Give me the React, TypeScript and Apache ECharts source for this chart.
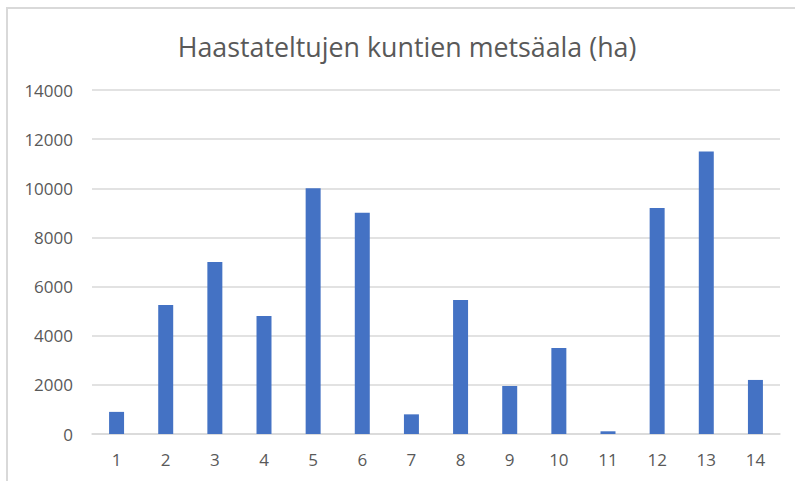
import React, { useEffect, useRef } from "react";
import * as echarts from "echarts";

const titleText = "Haastateltujen kuntien metsäala (ha)";
const categories = ["1", "2", "3", "4", "5", "6", "7", "8", "9", "10", "11", "12", "13", "14"];
const values = [900, 5250, 7000, 4800, 10000, 9000, 800, 5450, 1950, 3500, 110, 9200, 11500, 2200];
const yMin = 0;
const yMax = 14000;
const yInterval = 2000;

export default function App() {
  const ref = useRef<HTMLDivElement>(null);
  useEffect(() => {
    if (!ref.current) return;
    const chart = echarts.init(ref.current, null, { renderer: "svg" });
    chart.setOption({
      animation: false,
      backgroundColor: "#ffffff",
      graphic: [
        {
          type: "rect",
          shape: { x: 7, y: 8, width: 820, height: 520 },
          style: { fill: "none", stroke: "#d9d9d9", lineWidth: 2 },
          silent: true,
        },
        {
          type: "text",
          x: 407,
          y: 46,
          style: {
            text: titleText,
            fontFamily: "Open Sans",
            fontSize: 26.8,
            fill: "#595959",
            align: "center",
            verticalAlign: "middle",
          },
        },
      ],
      grid: { left: 92, right: 15, top: 90, bottom: 47, containLabel: false },
      xAxis: {
        type: "category",
        data: categories,
        axisLine: { show: true, lineStyle: { color: "#d9d9d9", width: 1.5 } },
        axisTick: { show: false },
        axisLabel: {
          color: "#595959",
          fontFamily: "Open Sans",
          fontSize: 17,
          margin: 17,
        },
      },
      yAxis: {
        type: "value",
        min: yMin,
        max: yMax,
        interval: yInterval,
        axisLine: { show: false },
        axisTick: { show: false },
        axisLabel: {
          color: "#595959",
          fontFamily: "Open Sans",
          fontSize: 17,
          margin: 19,
          formatter: (v: number) => String(v),
        },
        splitLine: { lineStyle: { color: "#d9d9d9", width: 1.5 } },
      },
      series: [
        {
          type: "bar",
          data: values,
          barWidth: "30.5%",
          itemStyle: { color: "#4472C4" },
        },
      ],
    });
    return () => chart.dispose();
  }, []);
  return (
    <div
      ref={ref}
      style={{ position: "absolute", left: 0, top: 0, width: 795, height: 481 }}
    />
  );
}
